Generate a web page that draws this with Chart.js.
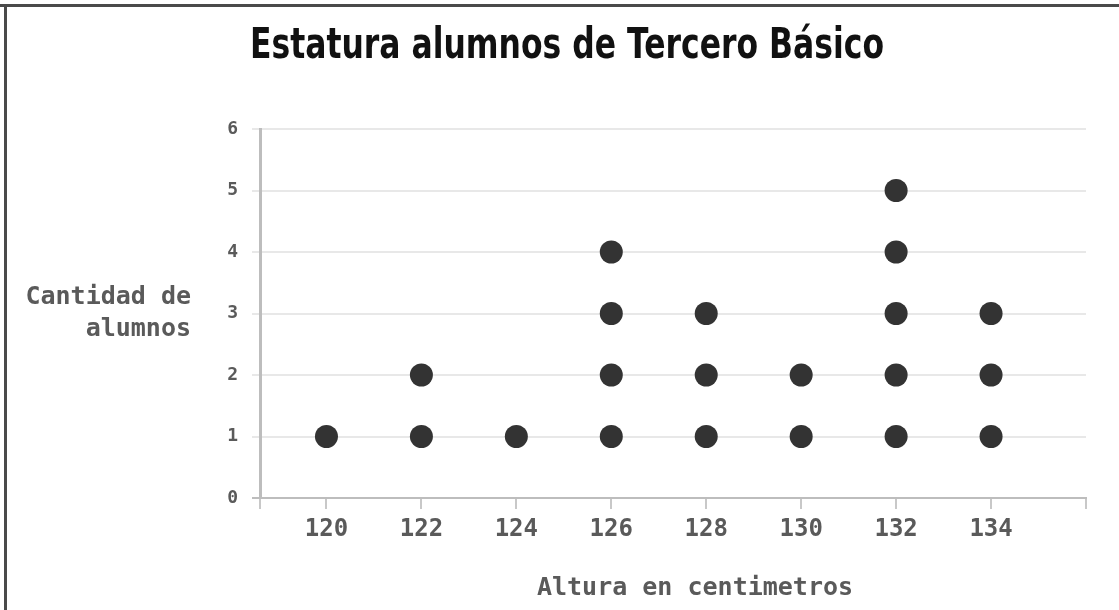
<!DOCTYPE html>
<html>
<head>
<meta charset="utf-8">
<script src="https://cdn.jsdelivr.net/npm/chart.js@4.4.0/dist/chart.umd.min.js"></script>
<style>
  body { margin: 0; background: #fff; }
  #wrap { position: relative; width: 1119px; height: 610px; }
</style>
</head>
<body>
<div id="wrap"><canvas id="dot-chart" width="1119" height="610"></canvas></div>
<script>
// heights (cm) and how many students have each height
var alturas = [120, 122, 124, 126, 128, 130, 132, 134];
var cantidades = [1, 2, 1, 4, 3, 2, 5, 3];
var yTicks = [0, 1, 2, 3, 4, 5, 6];

var titulo = 'Estatura alumnos de Tercero Básico';
var tituloY = ['Cantidad de', 'alumnos'];
var tituloX = 'Altura en centimetros';

// one dot per student, stacked
var puntos = [];
alturas.forEach(function(h, i) {
    for (var k = 1; k <= cantidades[i]; k++) {
        puntos.push({ x: h, y: k });
    }
});

var mono = '"DejaVu Sans Mono", monospace';

// titles and frame drawn by hand
var textos = {
    id: 'textos',
    afterDraw: function(chart) {
        var ctx = chart.ctx;
        ctx.save();
        // frame (top + left only, image is cropped)
        ctx.fillStyle = '#4a4a4a';
        ctx.fillRect(0, 4, 1119, 3);
        ctx.fillRect(4, 4, 3, 606);

        // condensed title: squeeze to the reference width
        ctx.fillStyle = '#111';
        ctx.font = 'bold 43px "DejaVu Sans", sans-serif';
        ctx.textAlign = 'left';
        ctx.textBaseline = 'middle';
        var w = ctx.measureText(titulo).width;
        ctx.save();
        ctx.translate(250, 47);
        ctx.scale(634 / w, 1);
        ctx.fillText(titulo, 0, 0);
        ctx.restore();

        ctx.fillStyle = '#5a5a5a';
        ctx.font = 'bold 25px ' + mono;
        ctx.textAlign = 'right';
        ctx.fillText(tituloY[0], 191, 297);
        ctx.fillText(tituloY[1], 191, 329);

        ctx.textAlign = 'center';
        ctx.fillText(tituloX, 695, 588);
        ctx.restore();
    }
};

var ctx = document.getElementById('dot-chart');
var chart = new Chart(ctx, {
    type: 'scatter',
    data: {
        datasets: [{
            data: puntos,
            backgroundColor: '#333333',
            borderColor: '#333333',
            pointRadius: 11.5,
            pointHoverRadius: 11.5,
            borderWidth: 0
        }]
    },
    options: {
        responsive: false,
        animation: false,
        layout: { padding: { left: 0, top: 129, right: 33, bottom: 0 } },
        plugins: {
            legend: { display: false },
            tooltip: { enabled: false }
        },
        scales: {
            x: {
                type: 'linear',
                min: 118.6,
                max: 136,
                afterBuildTicks: function(scale) {
                    var t = [{ value: 118.6 }];
                    alturas.forEach(function(v) { t.push({ value: v }); });
                    t.push({ value: 136 });
                    scale.ticks = t;
                },
                afterFit: function(scale) { scale.height = 112; },
                ticks: {
                    autoSkip: false,
                    maxRotation: 0,
                    color: '#5a5a5a',
                    font: { family: mono, size: 24, weight: 'bold' },
                    padding: 6,
                    callback: function(v) { return alturas.indexOf(v) >= 0 ? String(v) : ''; }
                },
                grid: {
                    drawOnChartArea: false,
                    drawTicks: true,
                    tickLength: 11,
                    color: '#c8c8c8',
                    lineWidth: 2
                },
                border: { color: '#bdbdbd', width: 2 }
            },
            y: {
                min: 0,
                max: 6,
                afterBuildTicks: function(scale) {
                    scale.ticks = yTicks.map(function(v) { return { value: v }; });
                },
                afterFit: function(scale) { scale.width = 260; },
                ticks: {
                    color: '#5a5a5a',
                    font: { family: mono, size: 18, weight: 'bold' },
                    padding: 14
                },
                grid: {
                    color: function(c) { return c.tick && c.tick.value === 0 ? '#bdbdbd' : '#e8e8e8'; },
                    lineWidth: 2,
                    tickLength: 8
                },
                border: { color: '#bdbdbd', width: 3 }
            }
        }
    },
    plugins: [textos]
});
</script>
</body>
</html>
